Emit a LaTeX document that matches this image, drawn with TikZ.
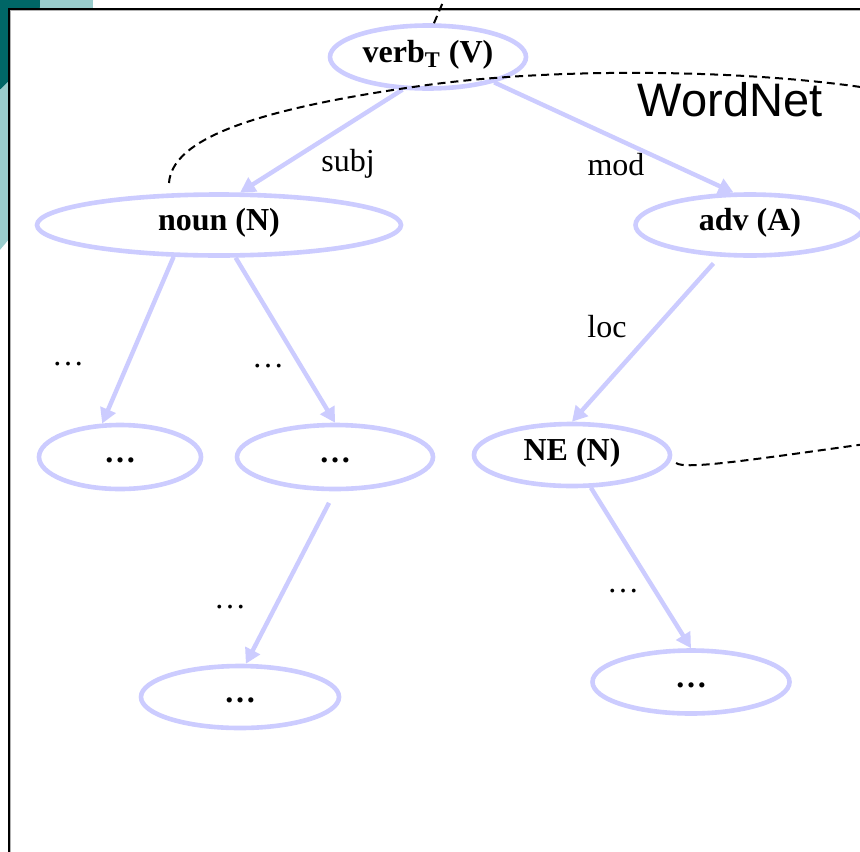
\documentclass[tikz,border=0pt]{standalone}
\usepackage{fontspec}
\setmainfont{Liberation Serif}
\newfontfamily\wnfont{Liberation Sans}
\usetikzlibrary{shapes.geometric, arrows.meta}

\definecolor{lavender}{RGB}{204,204,255}
\definecolor{tealdark}{RGB}{0,102,102}
\definecolor{teallight}{RGB}{153,204,204}

\tikzset{
  wnode/.style={ellipse, draw=lavender, line width=2.3pt, inner sep=0pt,
    text height=0.7em, text depth=0.2em,
    font=\fontsize{16}{19}\selectfont\bfseries},
  rel/.style={draw=lavender, line width=2.2pt, -{Triangle[length=7.5pt, width=8pt]}},
  lbl/.style={inner sep=0pt, font=\fontsize{16}{19}\selectfont},
  bound/.style={draw=black, line width=1pt, dash pattern=on 4pt off 2.5pt},
}

\begin{document}
\begin{tikzpicture}[x=0.5pt, y=-0.5pt]
  \useasboundingbox (0,0) rectangle (860,851);
  \clip (0,0) rectangle (860,851);

  % slide background
  \fill[teallight] (-289,0) circle[radius=191pt];
  \fill[tealdark] (-80,0) circle[radius=60pt];
  \draw[fill=white, line width=1pt] (9,9) rectangle (900,900);
  \draw[gray!60, line width=0.5pt] (10.5,900) -- (10.5,10.5) -- (900,10.5);

  % words
  \node[wnode, minimum width=98pt, minimum height=31.5pt] (verb) at (428,57) {verb\textsubscript{T} (V)};
  \node[wnode, minimum width=182pt, minimum height=30.5pt] (noun) at (219,225) {noun (N)};
  \node[wnode, minimum width=114.5pt, minimum height=30.5pt] (adv) at (750,225) {adv (A)};
  \node[wnode, minimum width=81pt, minimum height=32pt] (dotsa) at (120,457) {…};
  \node[wnode, minimum width=98pt, minimum height=32pt] (dotsb) at (335,457) {…};
  \node[wnode, minimum width=98pt, minimum height=31pt] (ne) at (572,455) {NE (N)};
  \node[wnode, minimum width=99pt, minimum height=31pt] (dotsc) at (240,697) {…};
  \node[wnode, minimum width=98.5pt, minimum height=31.5pt] (dotsd) at (691,682) {…};

  % relation labels
  \node[lbl] (subj) at (348,164) {subj};
  \node[lbl] (mod) at (616,165) {mod};
  \node[lbl] (loc) at (607,327) {loc};
  \node[lbl] (ella) at (68,364) {…};
  \node[lbl] (ellb) at (268,366) {…};
  \node[lbl] (ellc) at (230,607) {…};
  \node[lbl] (elld) at (623,591) {…};
  \node[inner sep=0pt, font=\wnfont\fontsize{23.5}{28}\selectfont] (wordnet) at (730,100) {WordNet};

  % relations
  \draw[rel] (verb.232) -- (noun.57);
  \draw[rel] (verb.339) -- (adv.117);
  \draw[rel] (noun.215) -- (dotsa.118);
  \draw[rel] (noun.297) -- (dotsb.north);
  \draw[rel, shorten <=4.5pt] (adv.226) -- (ne.north);
  \draw[rel, shorten <=6.5pt] (dotsb.south) -- (dotsc.80);
  \draw[rel] (ne.300) -- (dotsd.north);

  % WordNet boundary
  \coordinate (wna) at (169,183);
  \coordinate (wnb) at (880,90);
  \coordinate (wnc) at (676,463);
  \draw[bound] (wna) .. controls (172,140) and (250,110) .. (420,86)
    .. controls (560,66) and (760,70) .. (wnb);
  \draw[bound] (verb.80) -- (446,-5);
  \draw[bound] (wnc) .. controls (685,470) and (750,460) .. (880,442);
\end{tikzpicture}
\end{document}
